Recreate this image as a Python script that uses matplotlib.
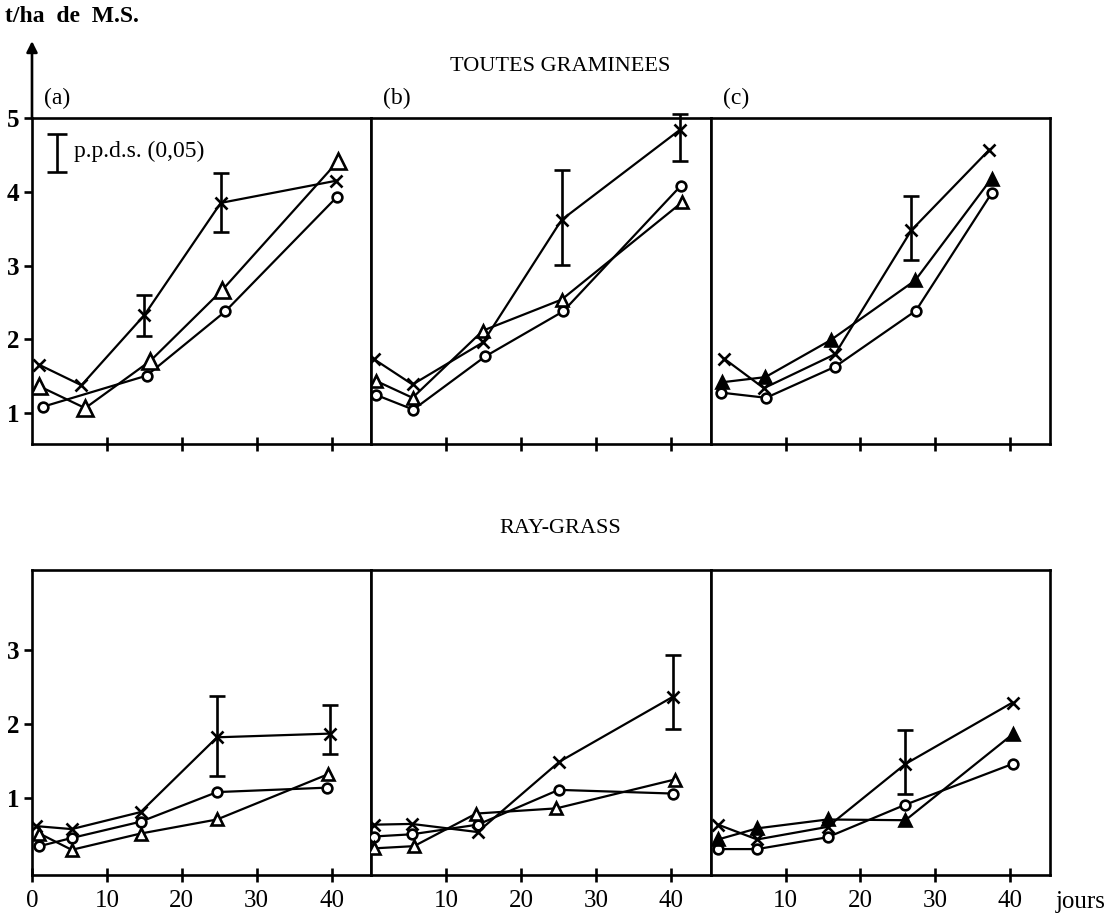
import matplotlib
matplotlib.use('Agg')
import matplotlib.pyplot as plt

# (jour, t/ha MS) -- top row: toutes graminees
gra_a_cross = [(0.9, 1.66), (6.6, 1.38), (15.0, 2.33), (25.2, 3.85), (40.6, 4.15)]
gra_a_tri = [(0.9, 1.37), (7.1, 1.07), (15.8, 1.71), (25.4, 2.67), (40.9, 4.42)]
gra_a_circ = [(1.5, 1.09), (15.3, 1.51), (25.8, 2.38), (40.7, 3.93)]

gra_b_cross = [(0.4, 1.73), (5.5, 1.39), (14.9, 1.96), (25.4, 3.62), (41.2, 4.84)]
gra_b_tri = [(0.6, 1.44), (5.5, 1.21), (14.9, 2.12), (25.4, 2.54), (41.5, 3.86)]
gra_b_circ = [(0.6, 1.25), (5.6, 1.05), (15.2, 1.77), (25.6, 2.38), (41.3, 4.08)]

gra_c_cross = [(1.8, 1.74), (7.1, 1.34), (16.6, 1.80), (26.8, 3.48), (37.2, 4.57)]
gra_c_tri = [(1.5, 1.42), (7.3, 1.49), (16.0, 1.99), (27.3, 2.80), (37.5, 4.18)]
gra_c_circ = [(1.4, 1.28), (7.4, 1.21), (16.6, 1.63), (27.4, 2.39), (37.5, 3.98)]

# bottom row: ray-grass
ray_a_cross = [(0.6, 0.62), (5.3, 0.58), (14.5, 0.81), (24.7, 1.82), (39.8, 1.87)]
ray_a_tri = [(1.0, 0.52), (5.3, 0.30), (14.5, 0.52), (24.7, 0.71), (39.5, 1.32)]
ray_a_circ = [(1.0, 0.35), (5.3, 0.46), (14.5, 0.68), (24.7, 1.08), (39.4, 1.14)]

ray_b_cross = [(0.4, 0.64), (5.4, 0.65), (14.2, 0.54), (25.1, 1.49), (40.3, 2.37)]
ray_b_tri = [(0.4, 0.32), (5.7, 0.35), (14.0, 0.79), (24.7, 0.86), (40.5, 1.25)]
ray_b_circ = [(0.3, 0.48), (5.4, 0.51), (14.2, 0.64), (25.0, 1.11), (40.3, 1.06)]

ray_c_cross = [(1.0, 0.64), (6.2, 0.44), (15.6, 0.61), (26.0, 1.46), (40.3, 2.29)]
ray_c_tri = [(1.0, 0.44), (6.2, 0.59), (15.6, 0.71), (26.0, 0.70), (40.3, 1.86)]
ray_c_circ = [(1.0, 0.31), (6.2, 0.31), (15.6, 0.47), (26.0, 0.91), (40.3, 1.46)]

# p.p.d.s. (0,05) bars: (jour, bas, haut)
gra_a_ppds = [(15.0, 2.05, 2.60), (25.2, 3.45, 4.25)]
gra_b_ppds = [(25.4, 3.01, 4.30), (41.2, 4.42, 5.05)]
gra_c_ppds = [(26.8, 3.07, 3.95)]
ray_a_ppds = [(24.7, 1.30, 2.38), (39.8, 1.60, 2.25)]
ray_b_ppds = [(40.3, 1.93, 2.93)]
ray_c_ppds = [(26.0, 1.06, 1.92)]

panel_labels = ['(a)', '(b)', '(c)']
x_ticks = [10, 20, 30, 40]

plt.rcParams['font.family'] = ['Liberation Serif', 'DejaVu Serif']

fig = plt.figure(figsize=(11.18, 9.22), dpi=100)

left0 = 32 / 1118.
pw = (1050 - 32) / 3. / 1118.
XMAX = 45.3

top_rows = [
    (gra_a_cross, gra_a_tri, gra_a_circ, gra_a_ppds, 'white'),
    (gra_b_cross, gra_b_tri, gra_b_circ, gra_b_ppds, 'white'),
    (gra_c_cross, gra_c_tri, gra_c_circ, gra_c_ppds, 'black'),
]
bot_rows = [
    (ray_a_cross, ray_a_tri, ray_a_circ, ray_a_ppds, 'white'),
    (ray_b_cross, ray_b_tri, ray_b_circ, ray_b_ppds, 'white'),
    (ray_c_cross, ray_c_tri, ray_c_circ, ray_c_ppds, 'black'),
]


def draw_panel(ax, cross, tri, circ, ppds, trifill, tri_ms):
    for pts, mk, ms, fc in ((circ, 'o', 7, 'white'),
                            (tri, '^', tri_ms, trifill),
                            (cross, 'x', 9, 'black')):
        d = [p[0] for p in pts]
        v = [p[1] for p in pts]
        ax.plot(d, v, color='black', lw=1.6, marker=mk, ms=ms,
                mfc=fc, mec='black', mew=1.9, zorder=3)
    for day, lo, hi in ppds:
        half = (hi - lo) / 2.
        ax.errorbar([day], [lo + half], yerr=[[half], [half]],
                    fmt='none', ecolor='black', elinewidth=1.9, capsize=6,
                    capthick=1.9, zorder=4, clip_on=False)
    ax.set_xlim(0, XMAX)
    ax.set_xticks(x_ticks)
    ax.tick_params(axis='x', direction='inout', length=10, width=1.9,
                   labelsize=18, pad=6)
    for s in ax.spines.values():
        s.set_linewidth(1.9)


def style_yaxis(ax, ticks):
    ax.set_yticks(ticks)
    ax.tick_params(axis='y', direction='out', length=6, width=1.9,
                   labelsize=18, pad=3)
    for lab in ax.get_yticklabels():
        lab.set_fontweight('bold')


# top row
for i, (cross, tri, circ, ppds, tf) in enumerate(top_rows):
    ax = fig.add_axes([left0 + i * pw, 1 - 444 / 922., pw, (444 - 118) / 922.])
    draw_panel(ax, cross, tri, circ, ppds, tf, 11 if i == 0 else 8)
    ax.set_ylim(0.584, 5.0)
    ax.tick_params(axis='x', labelbottom=False)
    ax.text(XMAX * 0.035, 5.12, panel_labels[i],
            fontsize=17, ha='left', va='bottom')
    if i == 0:
        style_yaxis(ax, [1, 2, 3, 4, 5])
        # y arrow above the frame
        ax.annotate('', xy=(0, 6.08), xytext=(0, 4.95),
                    arrowprops=dict(arrowstyle='-|>', color='black', lw=1.9,
                                    mutation_scale=16),
                    annotation_clip=False)
        # legend bar for p.p.d.s.
        ax.errorbar([3.3], [4.53], yerr=[[0.26], [0.26]], fmt='none',
                    ecolor='black', elinewidth=1.9, capsize=7, capthick=1.9)
        ax.text(5.6, 4.55, 'p.p.d.s. (0,05)', fontsize=17, va='center',
                ha='left')
    else:
        ax.set_yticks([])

# bottom row
for i, (cross, tri, circ, ppds, tf) in enumerate(bot_rows):
    ax = fig.add_axes([left0 + i * pw, 1 - 875 / 922., pw, (875 - 570) / 922.])
    draw_panel(ax, cross, tri, circ, ppds, tf, 8)
    ax.set_ylim(-0.04, 4.08)
    if i == 0:
        ax.set_xticks([0] + x_ticks)
        style_yaxis(ax, [1, 2, 3])
    else:
        ax.set_yticks([])

fig.text(5 / 1118., 1 - 16 / 922., 't/ha  de  M.S.', fontsize=17,
         ha='left', va='center', fontweight='bold')
fig.text(560 / 1118., 1 - 66 / 922., 'TOUTES GRAMINEES', fontsize=16,
         ha='center', va='center')
fig.text(560 / 1118., 1 - 528 / 922., 'RAY-GRASS', fontsize=16,
         ha='center', va='center')
fig.text(1056 / 1118., 1 - 902 / 922., 'jours', fontsize=18,
         ha='left', va='center')

fig.savefig('out.png', dpi=100, facecolor='white')
